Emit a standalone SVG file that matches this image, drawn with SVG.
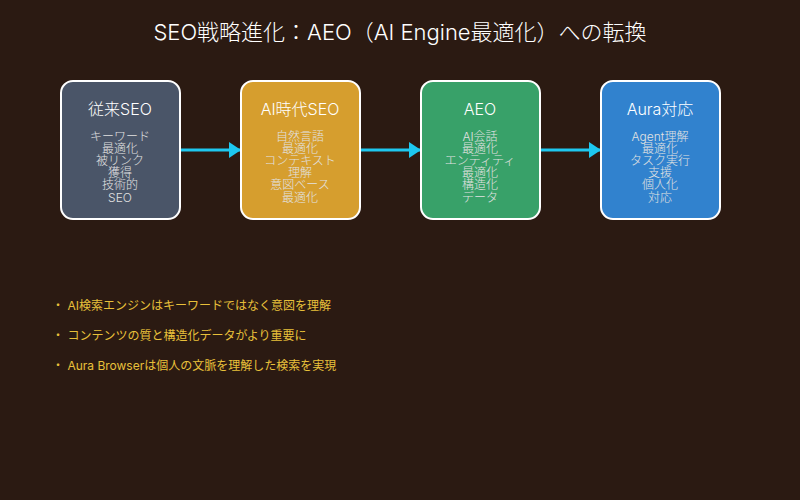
<svg xmlns="http://www.w3.org/2000/svg" width="800" height="500" viewBox="0 0 800 500">
<defs>
<style>
text{font-family:Inter,"Noto Sans CJK JP",sans-serif;}
.box{stroke:#ffffff;stroke-width:2;}
.t{fill:#ffffff;font-size:16px;text-anchor:middle;font-weight:300;}
.s{fill:#e2e2e2;font-size:12px;text-anchor:middle;font-weight:300;}
.b{fill:#e8c03a;font-size:12px;}
.c{stroke:#1ec8f0;stroke-width:3;fill:none;marker-end:url(#a);}
</style>
<marker id="a" markerWidth="12" markerHeight="16" refX="11" refY="8" orient="auto" markerUnits="userSpaceOnUse"><path d="M0,0 L12,8 L0,16 z" fill="#1ec8f0"/></marker>
</defs>
<rect width="800" height="500" fill="#2b1a12"/>
<text x="400" y="40" style="fill:#ffffff;font-size:22px;text-anchor:middle;font-weight:300">SEO戦略進化：AEO（AI Engine最適化）への転換</text>
<g id="connectors">
<line class="c" x1="181" y1="150" x2="240" y2="150"/>
<line class="c" x1="361" y1="150" x2="420" y2="150"/>
<line class="c" x1="541" y1="150" x2="600" y2="150"/>
</g>
<g id="n1"><rect class="box" x="61" y="81" width="119" height="138" rx="12" fill="#4a5568"/>
<text class="t" x="120" y="115">従来SEO</text>
<text class="s" x="120" y="141">キーワード</text><text class="s" x="120" y="153">最適化</text><text class="s" x="120" y="165">被リンク</text><text class="s" x="120" y="177">獲得</text><text class="s" x="120" y="189">技術的</text><text class="s" x="120" y="202">SEO</text></g>
<g id="n2"><rect class="box" x="241" y="81" width="119" height="138" rx="12" fill="#d69e2e"/>
<text class="t" x="300" y="115">AI時代SEO</text>
<text class="s" x="300" y="141">自然言語</text><text class="s" x="300" y="153">最適化</text><text class="s" x="300" y="165">コンテキスト</text><text class="s" x="300" y="177">理解</text><text class="s" x="300" y="189">意図ベース</text><text class="s" x="300" y="202">最適化</text></g>
<g id="n3"><rect class="box" x="421" y="81" width="119" height="138" rx="12" fill="#38a169"/>
<text class="t" x="480" y="115">AEO</text>
<text class="s" x="480" y="141">AI会話</text><text class="s" x="480" y="153">最適化</text><text class="s" x="480" y="165">エンティティ</text><text class="s" x="480" y="177">最適化</text><text class="s" x="480" y="189">構造化</text><text class="s" x="480" y="202">データ</text></g>
<g id="n4"><rect class="box" x="601" y="81" width="119" height="138" rx="12" fill="#3182ce"/>
<text class="t" x="660" y="115">Aura対応</text>
<text class="s" x="660" y="141">Agent理解</text><text class="s" x="660" y="153">最適化</text><text class="s" x="660" y="165">タスク実行</text><text class="s" x="660" y="177">支援</text><text class="s" x="660" y="189">個人化</text><text class="s" x="660" y="202">対応</text></g>
<g id="notes">
<text class="b" x="52" y="310">・ AI検索エンジンはキーワードではなく意図を理解</text>
<text class="b" x="52" y="340">・ コンテンツの質と構造化データがより重要に</text>
<text class="b" x="52" y="370">・ Aura Browserは個人の文脈を理解した検索を実現</text>
</g>
</svg>
